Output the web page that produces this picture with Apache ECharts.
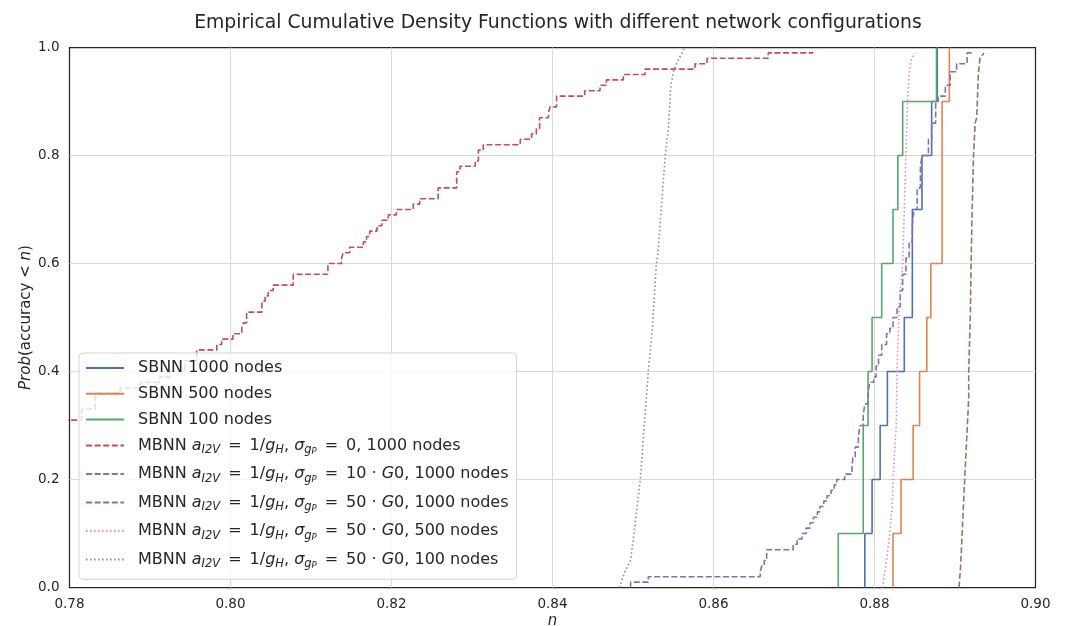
<!DOCTYPE html>
<html>
<head>
<meta charset="utf-8">
<script src="https://cdn.jsdelivr.net/npm/echarts@6/dist/echarts.min.js"></script>
<style>
  html, body { margin: 0; padding: 0; background: #fff; }
  #chart { width: 1067px; height: 626px; }
</style>
</head>
<body>
<div id="chart"></div>
<script>
// ECDF curves. Step series: x where the curve jumps, y after the jump.
const sbnn1000X = [0.8788, 0.8788, 0.8797, 0.8807, 0.8816, 0.8837, 0.8847, 0.8859, 0.8871, 0.8878]
const sbnn1000Y = [0, 0.1, 0.2, 0.3, 0.4, 0.5, 0.7, 0.8, 0.9, 1.0]

const sbnn500X = [0.8823, 0.8823, 0.8833, 0.8848, 0.8856, 0.8865, 0.8870, 0.8884, 0.8893]
const sbnn500Y = [0, 0.1, 0.2, 0.3, 0.4, 0.5, 0.6, 0.9, 1.0]

const sbnn100X = [0.8755, 0.8755, 0.8786, 0.8792, 0.8797, 0.8809, 0.8823, 0.8829, 0.8835, 0.8877]
const sbnn100Y = [0, 0.1, 0.3, 0.4, 0.5, 0.6, 0.7, 0.8, 0.9, 1.0]

const mbnnZeroX = [0.7770, 0.7815, 0.7832, 0.7863, 0.7888, 0.7912, 0.7925, 0.7943, 0.7958, 0.7983,
  0.7989, 0.8003, 0.8014, 0.8016, 0.8020, 0.8039, 0.8043, 0.8047, 0.8053, 0.8078,
  0.8121, 0.8138, 0.8140, 0.8148, 0.8165, 0.8169, 0.8173, 0.8182, 0.8188, 0.8196,
  0.8206, 0.8227, 0.8235, 0.8258, 0.8281, 0.8285, 0.8304, 0.8308, 0.8314, 0.8360,
  0.8374, 0.8380, 0.8384, 0.8395, 0.8397, 0.8405, 0.8440, 0.8459, 0.8467, 0.8488,
  0.8515, 0.8577, 0.8592, 0.8668, 0.8724]
const mbnnZeroY = [0.31, 0.33, 0.36, 0.37, 0.38, 0.39, 0.40, 0.42, 0.44, 0.45,
  0.46, 0.47, 0.48, 0.49, 0.51, 0.53, 0.54, 0.55, 0.56, 0.58,
  0.60, 0.61, 0.62, 0.63, 0.64, 0.65, 0.66, 0.67, 0.68, 0.69,
  0.70, 0.71, 0.72, 0.74, 0.77, 0.78, 0.79, 0.81, 0.82, 0.83,
  0.84, 0.85, 0.87, 0.88, 0.89, 0.91, 0.92, 0.93, 0.94, 0.95,
  0.96, 0.97, 0.98, 0.99, 0.99]

const mbnn10X = [0.8497, 0.8497, 0.8519, 0.8658, 0.8660, 0.8663, 0.8666, 0.8699, 0.8704, 0.8710,
  0.8715, 0.8720, 0.8724, 0.8729, 0.8732, 0.8737, 0.8741, 0.8746, 0.8750, 0.8753,
  0.8763, 0.8772, 0.8773, 0.8776, 0.8780, 0.8782, 0.8786, 0.8788, 0.8792, 0.8794,
  0.8799, 0.8802, 0.8805, 0.8809, 0.8815, 0.8819, 0.8823, 0.8828, 0.8832, 0.8835,
  0.8839, 0.8843, 0.8847, 0.8849, 0.8853, 0.8857, 0.8859, 0.8867, 0.8871, 0.8876,
  0.8879, 0.8888, 0.8894, 0.8902, 0.8915, 0.8921]
const mbnn10Y = [0, 0.01, 0.02, 0.03, 0.04, 0.05, 0.07, 0.08, 0.09, 0.10,
  0.11, 0.12, 0.13, 0.14, 0.15, 0.16, 0.17, 0.18, 0.19, 0.20,
  0.21, 0.22, 0.24, 0.26, 0.28, 0.30, 0.32, 0.34, 0.36, 0.38,
  0.39, 0.41, 0.43, 0.45, 0.47, 0.48, 0.50, 0.52, 0.55, 0.58,
  0.61, 0.64, 0.67, 0.70, 0.74, 0.78, 0.80, 0.83, 0.86, 0.90,
  0.91, 0.93, 0.955, 0.97, 0.99, 0.99]

// denser curves, drawn as plain lines through read points
const mbnn50kX = [0.8905, 0.8907, 0.8912, 0.8917, 0.8917, 0.8919, 0.8920, 0.8921, 0.8923, 0.8925, 0.8927, 0.8929, 0.8931, 0.8936]
const mbnn50kY = [0, 0.04, 0.20, 0.35, 0.40, 0.50, 0.60, 0.68, 0.80, 0.86, 0.87, 0.95, 0.98, 0.99]

const mbnn500X = [0.8810, 0.8815, 0.8819, 0.8822, 0.8823, 0.8825, 0.8827, 0.8828, 0.8831, 0.8835, 0.8837, 0.8839, 0.8841, 0.8843, 0.8845, 0.8850]
const mbnn500Y = [0, 0.05, 0.10, 0.15, 0.20, 0.25, 0.30, 0.40, 0.53, 0.60, 0.70, 0.80, 0.90, 0.95, 0.975, 0.99]

const mbnn100X = [0.8483, 0.8490, 0.8497, 0.8502, 0.8509, 0.8515, 0.8519, 0.8524, 0.8529, 0.8531, 0.8536, 0.8540, 0.8544, 0.8547, 0.8551, 0.8564]
const mbnn100Y = [0, 0.03, 0.05, 0.11, 0.20, 0.32, 0.40, 0.48, 0.60, 0.62, 0.72, 0.80, 0.85, 0.93, 0.96, 1.00]

const xTicks = [0.78, 0.80, 0.82, 0.84, 0.86, 0.88, 0.90]
const yTicks = [0, 0.2, 0.4, 0.6, 0.8, 1.0]

const names = ["sbnn1000", "sbnn500", "sbnn100", "mbnn0", "mbnn10", "mbnn50", "mbnn50_500", "mbnn50_100"]
const eq = "\u2002=\u2002"
const mbnnHead = "{t|MBNN }{i|a}{s|I2V}{t|" + eq + "1/}{i|g}{s|H}{t|, }{i|σ}{s|g}{ss|P}{t|" + eq
const labels = [
  "{p|SBNN 1000 nodes}",
  "{p|SBNN 500 nodes}",
  "{p|SBNN 100 nodes}",
  mbnnHead + "0, 1000 nodes}",
  mbnnHead + "10 · }{i|G}{t|0, 1000 nodes}",
  mbnnHead + "50 · }{i|G}{t|0, 1000 nodes}",
  mbnnHead + "50 · }{i|G}{t|0, 500 nodes}",
  mbnnHead + "50 · }{i|G}{t|0, 100 nodes}",
]

const zip = (xs, ys) => xs.map((x, i) => [x, ys[i]])

const chart = echarts.init(document.getElementById("chart"))

const font = "DejaVu Sans"
const ink = "#262626"

function makeSeries(name, xs, ys, color, type, step) {
  return {
    name: name,
    type: "line",
    data: zip(xs, ys),
    step: step ? "end" : false,
    showSymbol: false,
    symbol: "none",
    clip: true,
    animation: false,
    lineStyle: { color: color, width: 1.6, type: type },
    itemStyle: { color: color },
  }
}

const dashed = [6, 2.6]
const dotted = [1.5, 2.5]

const option = {
  backgroundColor: "#fff",
  animation: false,
  title: {
    text: "Empirical Cumulative Density Functions with different network configurations",
    left: 553,
    top: 9,
    textAlign: "center",
    textStyle: { fontFamily: font, fontSize: 18.8, fontWeight: "normal", color: ink },
  },
  grid: {
    left: 69.5,
    right: 31.5,
    top: 47.5,
    bottom: 38.5,
    outerBoundsMode: "none",
    containLabel: false,
    show: true,
    borderColor: ink,
    borderWidth: 1.25,
    backgroundColor: "transparent",
  },
  legend: {
    orient: "vertical",
    left: 79,
    top: 353,
    padding: [7, 8, 9, 6],
    itemWidth: 38,
    itemHeight: 14,
    itemGap: 9.8,
    backgroundColor: "rgba(255,255,255,0.8)",
    borderColor: "#d3d3d3",
    borderWidth: 1,
    borderRadius: 4,
    itemStyle: { opacity: 0 },
    data: names,
    formatter: (n) => "{gap| }" + labels[names.indexOf(n)],
    textStyle: {
      fontFamily: font,
      color: ink,
      rich: {
        gap: { width: 9, fontSize: 16 },
        p: { fontFamily: font, fontSize: 16, color: ink },
        t: { fontFamily: font, fontSize: 16, color: ink, lineHeight: 21.5 },
        i: { fontFamily: font, fontSize: 16, fontStyle: "italic", color: ink, lineHeight: 21.5 },
        s: { fontFamily: font, fontSize: 11.5, fontStyle: "italic", color: ink, verticalAlign: "bottom", lineHeight: 11 },
        ss: { fontFamily: font, fontSize: 8.5, fontStyle: "italic", color: ink, verticalAlign: "bottom", lineHeight: 5 },
      },
    },
  },
  xAxis: {
    type: "value",
    min: xTicks[0],
    max: xTicks[xTicks.length - 1],
    interval: 0.02,
    name: "n",
    nameLocation: "middle",
    nameGap: 26,
    nameMoveOverlap: false,
    nameTextStyle: { fontFamily: font, fontSize: 15, fontStyle: "italic", color: ink },
    axisLine: { show: false },
    axisTick: { show: false },
    axisLabel: {
      fontFamily: font, fontSize: 13.5, color: ink, margin: 10,
      formatter: (v) => v.toFixed(2),
    },
    splitLine: { show: true, showMinLine: false, showMaxLine: false, lineStyle: { color: "#d9d9d9", width: 1 } },
  },
  yAxis: {
    type: "value",
    min: yTicks[0],
    max: yTicks[yTicks.length - 1],
    interval: 0.2,
    name: "{i|Prob}(accuracy < {i|n})",
    nameLocation: "middle",
    nameGap: 36,
    nameMoveOverlap: false,
    nameTextStyle: {
      fontFamily: font, fontSize: 15, color: ink,
      rich: { i: { fontFamily: font, fontSize: 15, fontStyle: "italic", color: ink } },
    },
    axisLine: { show: false },
    axisTick: { show: false },
    axisLabel: {
      fontFamily: font, fontSize: 13.5, color: ink, margin: 10,
      formatter: (v) => v.toFixed(1),
    },
    splitLine: { show: true, showMinLine: false, showMaxLine: false, lineStyle: { color: "#d9d9d9", width: 1 } },
  },
  series: [
    makeSeries(names[0], sbnn1000X, sbnn1000Y, "#4C72B0", "solid", true),
    makeSeries(names[1], sbnn500X, sbnn500Y, "#DD8452", "solid", true),
    makeSeries(names[2], sbnn100X, sbnn100Y, "#55A868", "solid", true),
    makeSeries(names[3], mbnnZeroX, mbnnZeroY, "#C44E52", dashed, true),
    makeSeries(names[4], mbnn10X, mbnn10Y, "#8172B3", dashed, true),
    makeSeries(names[5], mbnn50kX, mbnn50kY, "#937860", dashed, false),
    makeSeries(names[6], mbnn500X, mbnn500Y, "#DA8BC3", dotted, false),
    makeSeries(names[7], mbnn100X, mbnn100Y, "#8C8C8C", dotted, false),
  ],
}

chart.setOption(option)
</script>
</body>
</html>
